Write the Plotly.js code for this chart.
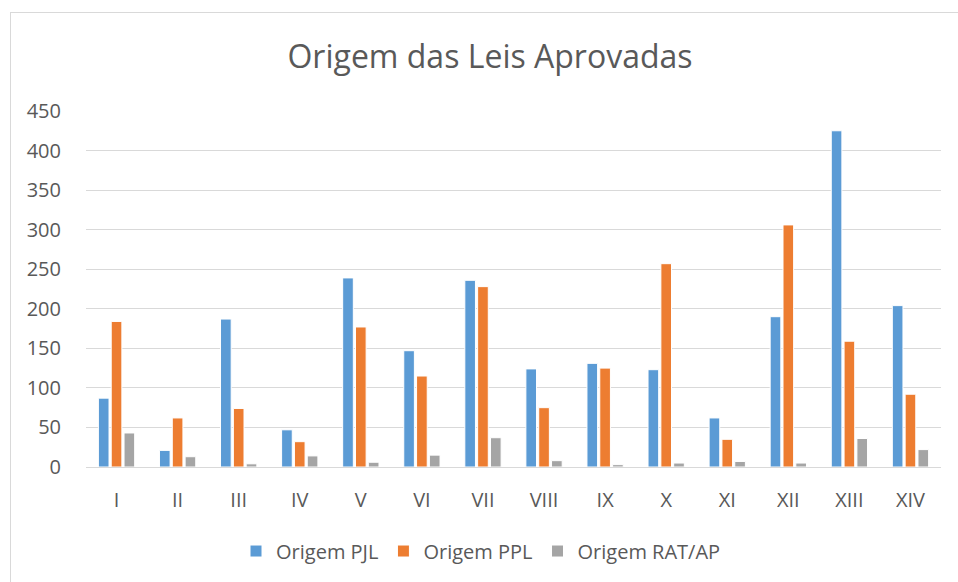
<!DOCTYPE html>
<html>
<head>
<meta charset="utf-8">
<script src="https://cdn.plot.ly/plotly-3.0.1.min.js"></script>
<style>
html,body{margin:0;padding:0;background:#fff;}
#wrap{position:relative;width:958px;height:582px;overflow:hidden;}
#chart{width:958px;height:582px;}
#frame{position:absolute;left:10px;top:12px;width:960px;height:600px;border:1px solid #d9d9d9;pointer-events:none;}
</style>
</head>
<body>
<div id="wrap"><div id="chart"></div><div id="frame"></div></div>
<script>
const categories = ["I","II","III","IV","V","VI","VII","VIII","IX","X","XI","XII","XIII","XIV"];
const origemPJL = [87,21,187,47,239,147,236,124,131,123,62,190,425,204];
const origemPPL = [184,62,74,32,177,115,228,75,125,257,35,306,159,92];
const origemRAT = [43,13,4,14,6,15,37,8,3,5,7,5,36,22];
const seriesNames = ["Origem PJL","Origem PPL","Origem RAT/AP"];
const colors = ["#5B9BD5","#ED7D31","#A5A5A5"];
const yTicks = [0,50,100,150,200,250,300,350,400,450];

const data = [origemPJL, origemPPL, origemRAT].map((vals, i) => ({
  type: "bar",
  name: seriesNames[i],
  x: categories,
  y: vals,
  marker: {color: colors[i], line: {color: "#ffffff", width: 1}},
  hoverinfo: "x+y+name"
}));

const font = "'Open Sans', 'Liberation Sans', sans-serif";
const layout = {
  width: 958, height: 582,
  margin: {l: 86, r: 17, t: 111, b: 115},
  paper_bgcolor: "#ffffff", plot_bgcolor: "#ffffff",
  font: {family: font, color: "#595959", size: 20},
  title: {text: "Origem das Leis Aprovadas", font: {family: font, size: 32, color: "#595959"},
          x: 490/958, xanchor: "center", y: 1 - 57/582, yanchor: "middle", yref: "container"},
  barmode: "group",
  bargap: 0.37,
  bargroupgap: 0.17,
  xaxis: {
    type: "category",
    showgrid: false,
    showline: true, linecolor: "#d9d9d9", linewidth: 1,
    ticks: "outside", ticklen: 15, tickcolor: "rgba(0,0,0,0)",
    tickfont: {size: 20, color: "#595959"},
    zeroline: false
  },
  yaxis: {
    range: [0, 450],
    tickvals: yTicks,
    ticktext: yTicks.map(String),
    showgrid: true, gridcolor: "#d9d9d9", gridwidth: 1,
    zeroline: false, showline: false,
    ticks: "outside", ticklen: 20, tickcolor: "rgba(0,0,0,0)",
    tickfont: {size: 20, color: "#595959"}
  },
  legend: {
    orientation: "h", x: 0.462, xanchor: "center", y: -0.236, yanchor: "middle",
    font: {size: 20, color: "#595959"},
    itemwidth: 30,
    itemclick: false, itemdoubleclick: false
  },
  showlegend: true
};

Plotly.newPlot("chart", data, layout, {displayModeBar: false, staticPlot: true});
</script>
</body>
</html>
